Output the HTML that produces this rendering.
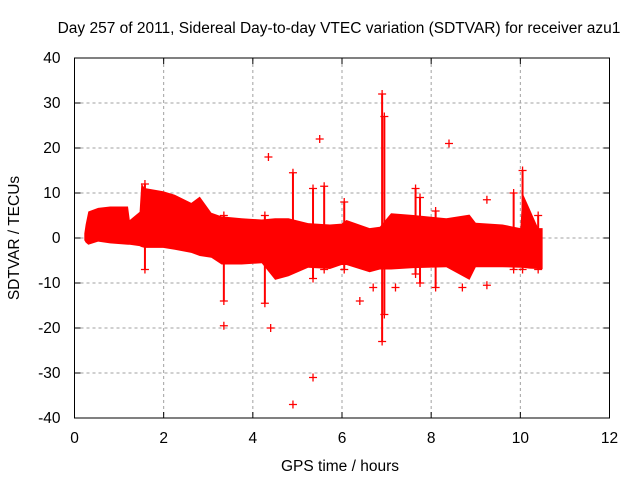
<!DOCTYPE html>
<html><head><meta charset="utf-8"><style>
body{margin:0;background:#fff}
svg text{font-family:"Liberation Sans",sans-serif;font-size:15.5px;fill:#000}
</style></head><body>
<svg id="c" width="640" height="480"></svg>
<script>
const xTicks=[0,2,4,6,8,10,12];
const yTicks=[-40,-30,-20,-10,0,10,20,30,40];
const envT=[0.22,0.25,0.31,0.53,0.8,1.2,1.24,1.46,1.5,1.57,1.99,2.25,2.62,2.81,3.07,3.3,3.75,4.2,4.5,4.8,5.24,5.73,5.99,6.1,6.62,6.85,7.1,7.6,8.34,8.86,9.0,9.6,10.0,10.05,10.2,10.4,10.5];
const envHi=[1,3,5.9,6.7,7,7,4,5.8,12.2,11.1,10.4,9.6,7.8,9.2,5.6,4.8,4.4,4.1,4.4,4.4,3.3,3.0,3.2,4,2.2,2.5,5.5,5.1,4.4,5.2,3.4,3.0,2.2,10,6.7,2.2,2.2];
const envLo=[-0.5,-1,-1.5,-0.8,-1.2,-1.5,-1.5,-1.8,-2,-2.2,-2.2,-2.6,-3.3,-4,-4.4,-5.9,-5.9,-5.6,-9.3,-8.5,-6.6,-6.9,-6,-6,-7.6,-7,-7,-6.7,-6.5,-9.3,-6.5,-6.5,-6.6,-6.6,-6.8,-6.9,-6.9];
const spikeT=[1.58,3.35,4.27,4.9,5.35,5.6,6.05,6.9,6.95,7.65,7.75,8.1,9.85,10.05,10.4];
const spikeHi=[12,5,5,14.5,11,11.5,8,32,27,11,9,6,10,15,5];
const spikeLo=[-7,-14,-14.5,-7,-9,-7,-7,-23,-17,-8,-10,-11,-7,-7,-7];
const outT=[4.35,4.4,3.35,4.9,5.35,5.5,6.4,8.4,9.25,9.25,8.7,6.7,7.2];
const outV=[18,-20,-19.5,-37,-31,22,-14,21,8.5,-10.5,-11,-11,-11];
const X0=74.5,X1=609.5,Y0=418,Y1=58;
const sx=t=>X0+t/12*(X1-X0), sy=v=>Y0-(v+40)/80*(Y0-Y1);
const svg=document.getElementById('c');const NS='http://www.w3.org/2000/svg';
function mk(tag,a,p){const e=document.createElementNS(NS,tag);for(const k in a)e.setAttribute(k,a[k]);(p||svg).appendChild(e);return e;}
xTicks.forEach(t=>{if(t>0&&t<12){const g=mk('line',{x1:sx(t),x2:sx(t),y1:Y1,y2:Y0,stroke:'#a0a0a0','stroke-dasharray':'3,3'});

}
const tx=mk('text',{x:sx(t),y:Y0+25,'text-anchor':'middle'});tx.textContent=t;


mk('line',{x1:sx(t),x2:sx(t),y1:Y0,y2:Y0-6,stroke:'#000'});mk('line',{x1:sx(t),x2:sx(t),y1:Y1,y2:Y1+6,stroke:'#000'});});
yTicks.forEach(v=>{if(v>-40&&v<40){const g=mk('line',{x1:X0,x2:X1,y1:sy(v),y2:sy(v),stroke:'#a0a0a0','stroke-dasharray':'3,3'});

}
const tx=mk('text',{x:X0-14,y:sy(v)+5,'text-anchor':'end'});tx.textContent=v;


mk('line',{x1:X0,x2:X0+6,y1:sy(v),y2:sy(v),stroke:'#000'});mk('line',{x1:X1,x2:X1-6,y1:sy(v),y2:sy(v),stroke:'#000'});});
let pts=envT.map((t,i)=>sx(t)+','+sy(envHi[i]));
for(let i=envT.length-1;i>=0;i--)pts.push(sx(envT[i])+','+sy(envLo[i]));
const env=mk('polygon',{points:pts.join(' '),fill:'#ff0000'});


function plus(t,v){return mk('path',{d:`M${sx(t)-4},${sy(v)}h8M${sx(t)},${sy(v)-4}v8`,stroke:'#ff0000','stroke-width':1.3,fill:'none'});}
spikeT.forEach((t,i)=>{const l=mk('line',{x1:sx(t),x2:sx(t),y1:sy(spikeHi[i]),y2:sy(spikeLo[i]),stroke:'#ff0000','stroke-width':2});


plus(t,spikeHi[i]);plus(t,spikeLo[i]);});
outT.forEach((t,i)=>{const p=plus(t,outV[i]);

});
const fr=mk('rect',{x:X0,y:Y1,width:X1-X0,height:Y0-Y1,fill:'none',stroke:'#000'});


const ti=mk('text',{x:339,y:33,'text-anchor':'middle'});ti.textContent='Day 257 of 2011, Sidereal Day-to-day VTEC variation (SDTVAR) for receiver azu1';


const xl=mk('text',{x:340,y:471,'text-anchor':'middle'});xl.textContent='GPS time / hours';


const yl=mk('text',{x:0,y:0,'text-anchor':'middle',transform:'translate(19,238) rotate(-90)'});yl.textContent='SDTVAR / TECUs';


</script>
</body></html>
